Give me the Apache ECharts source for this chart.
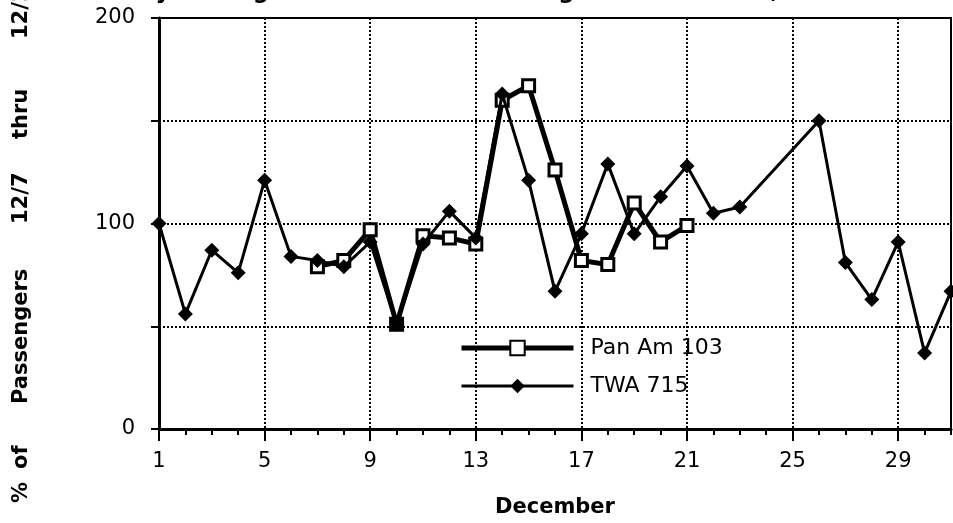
<!DOCTYPE html>
<html>
<head>
<meta charset="utf-8">
<script src="https://cdn.jsdelivr.net/npm/echarts@6/dist/echarts.min.js"></script>
<style>
  html, body { margin: 0; padding: 0; background: #fff; }
  #chart { width: 953px; height: 523px; }
</style>
</head>
<body>
<div id="chart"></div>
<script>
// December days 1..31
const days = ['1','2','3','4','5','6','7','8','9','10','11','12','13','14','15','16',
  '17','18','19','20','21','22','23','24','25','26','27','28','29','30','31'];

// % of passengers, Pan Am 103 (only 12/7 - 12/21 reported)
const panAm = [null, null, null, null, null, null, 79, 82, 97, 51, 94, 93, 90, 160, 167, 126,
  82, 80, 110, 91, 99, null, null, null, null, null, null, null, null, null, null];

// % of passengers, TWA 715 (no value for 24, 25)
const twa = [100, 56, 87, 76, 121, 84, 82, 79, 91, 51, 90, 106, 93, 163, 121, 67,
  95, 129, 95, 113, 128, 105, 108, null, null, 150, 81, 63, 91, 37, 67];

const seriesNames = ['Pan Am 103', 'TWA 715'];
const yLabels = [0, 100, 200];

const chart = echarts.init(document.getElementById('chart'));

const dotted = { color: '#000', width: 2, type: [2, 2] };
const font = 'DejaVu Sans';

// rotated y axis title, word by word (wide spacing in original)
const yWords = [['%', 503], ['of', 469], ['Passengers', 404], ['12/7', 224], ['thru', 139], ['12/21', 39]];

const option = {
  animation: false,
  backgroundColor: '#fff',
  grid: {
    left: 159, right: 2, top: 18, bottom: 93,
    show: true, borderColor: '#000', borderWidth: 2
  },
  legend: {
    orient: 'vertical',
    left: 454,
    top: 332,
    itemWidth: 112,
    itemHeight: 18,
    itemGap: 16,
    data: [
      { name: seriesNames[0], lineStyle: { width: 5 } },
      { name: seriesNames[1], lineStyle: { width: 3 } }
    ],
    textStyle: { fontFamily: font, fontSize: 22, color: '#000', padding: [0, 0, 0, 12] }
  },
  xAxis: [{
    type: 'category',
    data: days,
    boundaryGap: false,
    axisLine: { lineStyle: { color: '#000', width: 3 } },
    axisTick: { interval: 0, length: 6, lineStyle: { color: '#000', width: 2 } },
    axisLabel: {
      interval: 3, margin: 22, color: '#000', fontFamily: font, fontSize: 21
    },
    splitLine: { show: true, interval: 3, lineStyle: dotted },
    name: 'December',
    nameLocation: 'middle',
    nameGap: 68,
    nameTextStyle: { fontFamily: font, fontSize: 21, fontWeight: 'bold', color: '#000' }
  }, {
    type: 'category',
    data: days,
    boundaryGap: false,
    position: 'bottom',
    axisLine: { show: false },
    axisTick: { interval: 3, length: 12, lineStyle: { color: '#000', width: 2 } },
    axisLabel: { show: false },
    splitLine: { show: false }
  }],
  yAxis: {
    type: 'value',
    min: 0, max: 200, interval: 50,
    axisLine: { show: true, lineStyle: { color: '#000', width: 3 } },
    axisTick: { show: true, length: 8, lineStyle: { color: '#000', width: 2 } },
    axisLabel: {
      margin: 24, color: '#000', fontFamily: font, fontSize: 21,
      formatter: v => (yLabels.includes(v) ? String(v) : '')
    },
    splitLine: { show: true, lineStyle: dotted }
  },
  graphic: [
    {
      type: 'text', left: 105, top: -19,
      style: {
        text: 'Daily Average for Base Week through December 21, 1988',
        font: 'bold 23px ' + font, fill: '#000'
      }
    }
  ].concat(yWords.map(w => ({
    type: 'text', x: 22, y: w[1], rotation: Math.PI / 2,
    style: {
      text: w[0], font: 'bold 21px ' + font, fill: '#000',
      align: 'left', verticalAlign: 'middle'
    }
  }))),
  series: [
    {
      name: seriesNames[0],
      type: 'line',
      data: panAm.map((v, i) => (days[i] === '10' ? { value: v, itemStyle: { color: '#000' } } : v)),
      symbol: 'rect',
      symbolSize: 12,
      lineStyle: { color: '#000', width: 5 },
      itemStyle: { color: '#fff', borderColor: '#000', borderWidth: 3 },
      z: 2
    },
    {
      name: seriesNames[1],
      type: 'line',
      data: twa,
      connectNulls: true,
      symbol: 'diamond',
      symbolSize: 15,
      lineStyle: { color: '#000', width: 3 },
      itemStyle: { color: '#000' },
      z: 3
    }
  ]
};

chart.setOption(option);
</script>
</body>
</html>
